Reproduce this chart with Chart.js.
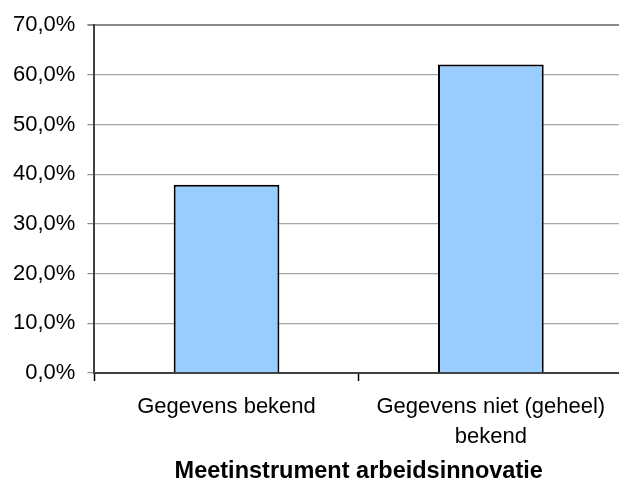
<!DOCTYPE html>
<html>
<head>
<meta charset="utf-8">
<script src="https://cdn.jsdelivr.net/npm/chart.js@4/dist/chart.umd.min.js"></script>
<style>
  html, body { margin: 0; padding: 0; background: #fff; overflow: hidden; }
  #wrap { width: 619px; height: 482px; overflow: hidden; }
  canvas { display: block; }
</style>
</head>
<body>
<div id="wrap"><canvas id="chart" width="623" height="482"></canvas></div>
<script>
// Share of records per measurement group
const categories = ["Gegevens bekend", ["Gegevens niet (geheel)", "bekend"]];
const percentages = [37.9, 62.1];
const yTicks = [0, 10, 20, 30, 40, 50, 60, 70];
const axisTitle = "Meetinstrument arbeidsinnovatie";

const FONT = "'Liberation Sans', Arial, Helvetica, sans-serif";

new Chart(document.getElementById("chart"), {
  type: "bar",
  data: {
    labels: categories,
    datasets: [{
      data: percentages,
      backgroundColor: "#99CCFF",
      borderColor: "#000000",
      borderWidth: 2,
      barPercentage: 0.8,
      categoryPercentage: 0.5
    }]
  },
  options: {
    responsive: false,
    animation: false,
    layout: { padding: { left: 1, top: 16, right: 0, bottom: -4 } },
    plugins: {
      legend: { display: false },
      tooltip: { enabled: false }
    },
    scales: {
      x: {
        offset: true,
        grid: {
          offset: true,
          drawOnChartArea: false,
          tickLength: 8,
          tickColor: "#000000",
          tickWidth: 1.5
        },
        border: { color: "#404040", width: 2 },
        ticks: {
          color: "#000000",
          padding: 11,
          maxRotation: 0,
          autoSkip: false,
          font: { family: FONT, size: 22, lineHeight: 1.36 }
        },
        title: {
          display: true,
          text: axisTitle,
          color: "#000000",
          padding: { top: -5, bottom: 0 },
          font: { family: FONT, size: 23.5, weight: "bold" }
        }
      },
      y: {
        min: yTicks[0],
        max: yTicks[yTicks.length - 1],
        afterBuildTicks: (axis) => { axis.ticks = yTicks.map(v => ({ value: v })); },
        grid: {
          color: (ctx) => ctx.tick && ctx.tick.value === 70 ? "#8a8a8a" : "#a6a6a6",
          lineWidth: (ctx) => ctx.tick && ctx.tick.value === 70 ? 2 : 1.2,
          tickLength: 7,
          tickColor: "#8a8a8a"
        },
        border: { color: "#404040", width: 2 },
        ticks: {
          color: "#000000",
          padding: 12,
          font: { family: FONT, size: 22 },
          callback: (v) => v.toFixed(1).replace(".", ",") + "%"
        }
      }
    }
  }
});
</script>
</body>
</html>
